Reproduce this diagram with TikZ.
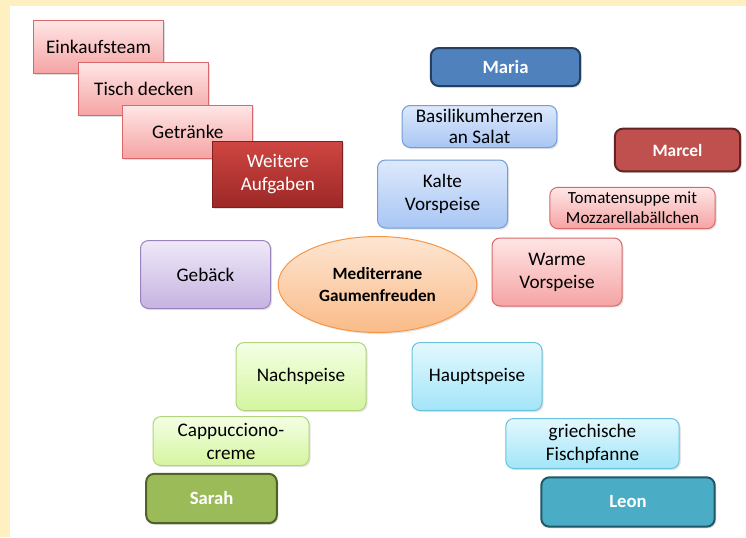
\documentclass[tikz,border=0pt]{standalone}
\usepackage{fontspec}
\setmainfont{Carlito}
\usetikzlibrary{positioning,shapes.geometric,shadows}
\definecolor{paper}{HTML}{FFF0C2}
\definecolor{pinktop}{HTML}{FFE6E6}
\definecolor{pinkbot}{HTML}{F5A3A3}
\definecolor{pinkline}{HTML}{D9686A}
\definecolor{redtop}{HTML}{CF4642}
\definecolor{redbot}{HTML}{9C2826}
\definecolor{blutop}{HTML}{DDE9FC}
\definecolor{blubot}{HTML}{A8C6F4}
\definecolor{bluline}{HTML}{729DD6}
\definecolor{purtop}{HTML}{EFE9F8}
\definecolor{purbot}{HTML}{C5B3E1}
\definecolor{purline}{HTML}{9983BE}
\definecolor{orgtop}{HTML}{FDE6D3}
\definecolor{orgbot}{HTML}{FABB88}
\definecolor{orgline}{HTML}{F79646}
\definecolor{grntop}{HTML}{F4FFE5}
\definecolor{grnbot}{HTML}{D4F59E}
\definecolor{grnline}{HTML}{B4D37E}
\definecolor{cyntop}{HTML}{E3F8FE}
\definecolor{cynbot}{HTML}{A2E5F8}
\definecolor{cynline}{HTML}{6AC2DA}
\tikzset{task node/.style={rectangle,draw=pinkline,line width=0.75pt,top color=pinktop,bottom color=pinkbot,minimum width=97.5pt,minimum height=40pt,inner sep=0pt,align=center,font=\fontsize{14.4}{17.3}\selectfont,drop shadow={opacity=0.25,shadow xshift=1.2pt,shadow yshift=-1.2pt}} }
\tikzset{dish node/.style={rectangle,rounded corners=6pt,line width=0.75pt,minimum width=97.5pt,minimum height=51pt,inner sep=0pt,align=center,font=\fontsize{14.4}{17.3}\selectfont,drop shadow={opacity=0.2,shadow xshift=1.2pt,shadow yshift=-1.2pt}} }
\tikzset{name node/.style={rectangle,rounded corners=6pt,line width=1.5pt,minimum height=37pt,inner sep=0pt,text=white,font=\bfseries\fontsize{14}{17}\selectfont,drop shadow={opacity=0.25,shadow xshift=1.2pt,shadow yshift=-1.2pt}} }
\tikzset{pink/.style={draw=pinkline,top color=pinktop,bottom color=pinkbot}}
\tikzset{light blue/.style={draw=bluline,top color=blutop,bottom color=blubot}}
\tikzset{green/.style={draw=grnline,top color=grntop,bottom color=grnbot}}
\tikzset{cyan/.style={draw=cynline,top color=cyntop,bottom color=cynbot}}

\begin{document}
\begin{tikzpicture}[x=0.75pt,y=-0.75pt]
  \fill[paper] (0,0) rectangle (746,537);
  \fill[white] (10,6) rectangle (746,537);
  \useasboundingbox (0,0) rectangle (746,537);

\begin{scope}[on grid]
  \node[task node] (einkauf) at (98.5,47) {Einkaufsteam};
  \node[task node] (tisch) [below right=31.5pt and 34pt of einkauf] {Tisch decken};
  \node[task node] (getraenke) [below right=32pt and 33pt of tisch] {Getränke};
  \node[task node,draw=redbot!80!black,top color=redtop,bottom color=redbot,text=white,minimum height=50pt] (weitere) [below right=32pt and 67.5pt of getraenke] {Weitere\\Aufgaben};
\end{scope}

  \node[name node,draw={rgb,255:red,36;green,63;blue,96},fill={rgb,255:red,79;green,129;blue,189},minimum width=112pt,minimum height=28.5pt] (maria) at (505.5,67) {Maria};
  \node[dish node,light blue,minimum width=116pt,minimum height=31.5pt] (basilikum) at (479.5,126.5) {Basilikumherzen\\[-1pt]an Salat};
  \node[name node,draw={rgb,255:red,99;green,37;blue,35},fill={rgb,255:red,192;green,80;blue,77},minimum width=94pt,minimum height=32pt,font=\bfseries\fontsize{13}{16}\selectfont] (marcel) at (677.5,150) {Marcel};
  \node[dish node,light blue] (kalte) at (442.5,194) {Kalte\\Vorspeise};
  \node[dish node,pink,minimum width=124pt,minimum height=31pt,font=\fontsize{12.75}{15.3}\selectfont] (tomaten) at (632.5,208) {Tomatensuppe mit\\Mozzarellabällchen};
  \node[dish node,pink] (warme) at (557,272) {Warme\\Vorspeise};
  \node[dish node,draw=purline,top color=purtop,bottom color=purbot] (gebaeck) at (205.5,274.5) {Gebäck};
  \node[ellipse,draw=orgline,line width=0.75pt,top color=orgtop,bottom color=orgbot,minimum width=149pt,minimum height=72pt,inner sep=0pt,align=center,font=\bfseries\fontsize{12.9}{16.5}\selectfont,drop shadow={opacity=0.2,shadow xshift=1.2pt,shadow yshift=-1.2pt}] (gaumen) at (377.5,284.5) {Mediterrane\\Gaumenfreuden};
  \node[dish node,green] (nach) at (301,376.5) {Nachspeise};
  \node[dish node,cyan] (haupt) at (477,376.5) {Hauptspeise};
  \node[dish node,green,minimum width=117pt,minimum height=36.75pt] (cappu) at (231,441) {Cappucciono-\\creme};
  \node[dish node,cyan,minimum width=130pt,minimum height=37.5pt] (fisch) at (592.5,443.5) {griechische\\Fischpfanne};
  \node[name node,draw={rgb,255:red,79;green,98;blue,40},fill={rgb,255:red,155;green,187;blue,89},minimum width=98pt] (sarah) at (211.5,498.5) {Sarah};
  \node[name node,draw={rgb,255:red,33;green,88;blue,104},fill={rgb,255:red,75;green,172;blue,198},minimum width=130pt] (leon) at (628,502) {Leon};
\end{tikzpicture}
\end{document}
